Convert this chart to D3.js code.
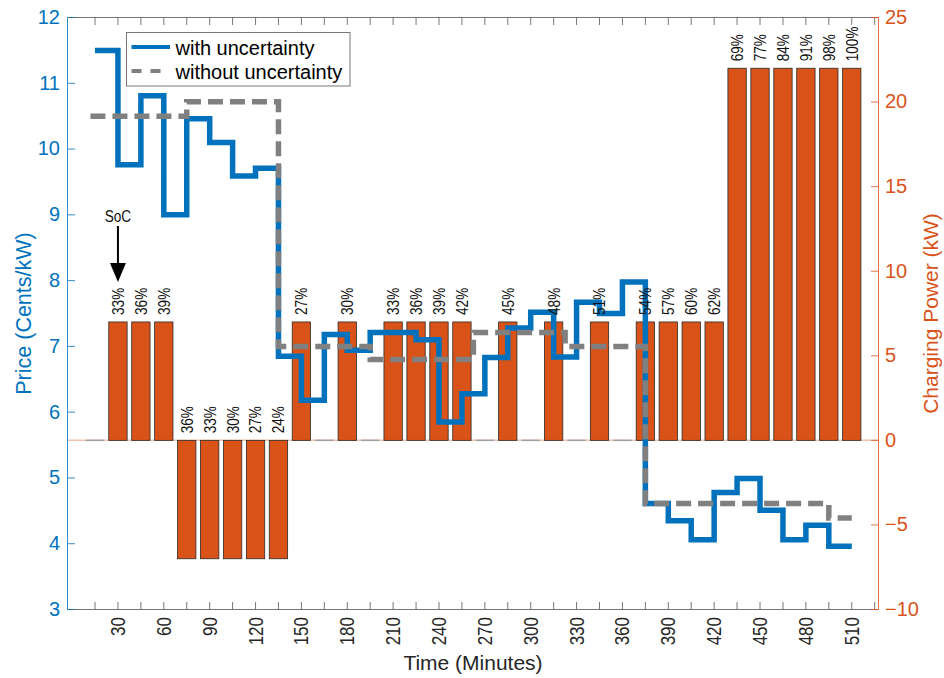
<!DOCTYPE html>
<html><head><meta charset="utf-8">
<script src="https://cdn.jsdelivr.net/npm/d3@7"></script>
<style>
html,body{margin:0;padding:0;background:#fff;}
svg{display:block;font-family:"Liberation Sans",Arial,Helvetica,sans-serif;}
</style></head><body>
<svg id="c" width="944" height="678"></svg>
<script>
// ---------- data ----------
const minutes = [15,30,45,60,75,90,105,120,135,150,165,180,195,210,225,240,255,270,285,300,315,330,345,360,375,390,405,420,435,450,465,480,495,510];
const chargingPower = [0,7,7,7,-7,-7,-7,-7,-7,7,0,7,0,7,7,7,7,0,7,0,7,0,7,0,7,7,7,7,22,22,22,22,22,22];
const socLabels = ["","33%","36%","39%","36%","33%","30%","27%","24%","27%","","30%","","33%","36%","39%","42%","","45%","","48%","","51%","","54%","57%","60%","62%","69%","77%","84%","91%","98%","100%"];

const withStart = [15,30,45,60,75,90,105,120,135,150,165,180,195,210,225,240,255,270,285,300,315,330,345,360,375,390,405,420,435,450,465,480,495];
const priceWith = [11.5,9.76,10.81,9.0,10.46,10.10,9.59,9.71,6.85,6.18,7.18,6.94,7.21,7.21,7.10,5.85,6.28,6.83,7.28,7.52,6.84,7.67,7.50,7.98,4.61,4.35,4.06,4.78,4.99,4.51,4.06,4.28,3.96];
const withoutStart = [12,75,135,195,262.5,322.5,375,495];
const priceWithout = [10.5,10.72,7.0,6.80,7.21,7.0,4.61,4.39];
const lineEnd = 510;

const xTicks = [15,30,45,60,75,90,105,120,135,150,165,180,195,210,225,240,255,270,285,300,315,330,345,360,375,390,405,420,435,450,465,480,495,510,525];
const xTickLabels = [30,60,90,120,150,180,210,240,270,300,330,360,390,420,450,480,510];
const leftTicks = [3,4,5,6,7,8,9,10,11,12];
const rightTicks = [-10,-5,0,5,10,15,20,25];
const legendLabels = ["with uncertainty","without uncertainty"];

// ---------- layout ----------
const BLUE = "#0072BD", ORANGE = "#D95319", GRAY = "#808080", DARK = "#262626";
const L = 67.5, R = 878.5, T = 17.5, B = 609.5;
const svg = d3.select("#c");
const x = d3.scaleLinear().domain([-3, 527.5]).range([L, R]);
const yL = d3.scaleLinear().domain([3, 12]).range([B, T]);
const yR = d3.scaleLinear().domain([-10, 25]).range([B, T]);

// zero baseline
svg.append("line").attr("x1", L).attr("x2", R).attr("y1", yR(0)).attr("y2", yR(0))
  .attr("stroke", ORANGE).attr("stroke-opacity", 0.35).attr("stroke-width", 1.5);

// bars
const bw = (x(15) - x(0)) * 0.8;
const barData = minutes.map((m, i) => ({m, v: chargingPower[i], lab: socLabels[i]}));
svg.append("g").selectAll("rect").data(barData.filter(d => d.v !== 0)).join("rect")
  .attr("x", d => x(d.m) - bw / 2)
  .attr("y", d => yR(Math.max(0, d.v)))
  .attr("width", bw)
  .attr("height", d => Math.abs(yR(d.v) - yR(0)))
  .attr("fill", ORANGE).attr("stroke", "#2a2a2a").attr("stroke-width", 0.8);
svg.append("g").selectAll("line").data(barData.filter(d => d.v === 0)).join("line")
  .attr("x1", d => x(d.m) - bw / 2).attr("x2", d => x(d.m) + bw / 2)
  .attr("y1", yR(0)).attr("y2", yR(0))
  .attr("stroke", "#a0a0a0").attr("stroke-width", 1.5);

// lines
const stair = d3.line().x(d => x(d[0])).y(d => yL(d[1])).curve(d3.curveStepAfter);
const withPts = withStart.map((m, i) => [m, priceWith[i]]).concat([[lineEnd, priceWith[priceWith.length - 1]]]);
const withoutPts = withoutStart.map((m, i) => [m, priceWithout[i]]).concat([[lineEnd, priceWithout[priceWithout.length - 1]]]);
svg.append("path").attr("d", stair(withPts)).attr("fill", "none")
  .attr("stroke", BLUE).attr("stroke-width", 5.5);
svg.append("path").attr("d", stair(withoutPts)).attr("fill", "none")
  .attr("stroke", GRAY).attr("stroke-width", 5.5).attr("stroke-dasharray", "15,7");

// bar labels
svg.append("g").selectAll("text").data(barData.filter(d => d.lab !== "")).join("text")
  .attr("transform", d => `translate(${x(d.m)},${(d.v > 0 ? yR(d.v) : yR(0)) - 7}) rotate(-90) scale(0.8,1)`)
  .attr("dy", "0.35em").attr("text-anchor", "start")
  .attr("font-size", 17).attr("fill", "#111").text(d => d.lab);

// axes
const gB = svg.append("g").attr("transform", `translate(0,${B})`)
  .call(d3.axisBottom(x).tickValues(xTicks).tickSize(-7.5).tickSizeOuter(0).offset(0)
    .tickFormat(d => xTickLabels.includes(d) ? d : ""));
gB.selectAll("text").attr("y", 0).attr("x", -7.5 / 0.85).attr("dy", "0.35em")
  .attr("transform", "rotate(-90) scale(0.85,1)").style("text-anchor", "end")
  .attr("font-size", 20).attr("fill", DARK);
const gT = svg.append("g").attr("transform", `translate(0,${T})`)
  .call(d3.axisTop(x).tickValues(xTicks).tickSize(-7.5).tickSizeOuter(0).offset(0).tickFormat(""));
[gB, gT].forEach(g => { g.selectAll("path,line").attr("stroke", "#666").attr("stroke-width", 0.9); });

const gL = svg.append("g").attr("transform", `translate(${L},0)`)
  .call(d3.axisLeft(yL).tickValues(leftTicks).tickSize(-7.5).tickSizeOuter(0).tickPadding(7.5).offset(0));
gL.selectAll("path,line").attr("stroke", BLUE).attr("stroke-width", 1).attr("stroke-opacity", 0.8);
gL.selectAll("text").attr("font-size", 20).attr("fill", BLUE);

const gR = svg.append("g").attr("transform", `translate(${R},0)`)
  .call(d3.axisRight(yR).tickValues(rightTicks).tickSize(-7.5).tickSizeOuter(0).tickPadding(6.5).offset(0));
gR.selectAll("path,line").attr("stroke", ORANGE).attr("stroke-width", 1).attr("stroke-opacity", 0.8);
gR.selectAll("text").attr("font-size", 20).attr("fill", ORANGE);
[gB, gT, gL, gR].forEach(g => g.attr("font-family", null));

// axis titles
svg.append("text").attr("transform", `translate(23,${(T + B) / 2}) rotate(-90)`)
  .attr("dy", "0.35em").attr("text-anchor", "middle").attr("font-size", 21.5)
  .attr("fill", BLUE).text("Price (Cents/kW)");
svg.append("text").attr("transform", `translate(931,${(T + B) / 2}) rotate(-90)`)
  .attr("dy", "0.35em").attr("text-anchor", "middle").attr("font-size", 21)
  .attr("fill", ORANGE).text("Charging Power (kW)");
svg.append("text").attr("x", (L + R) / 2).attr("y", 670).attr("text-anchor", "middle")
  .attr("font-size", 21).attr("fill", DARK).text("Time (Minutes)");

// SoC annotation
const ax = x(30);
svg.append("text").attr("transform", `translate(${ax},222) scale(0.8,1)`).attr("text-anchor", "middle")
  .attr("font-size", 17).attr("fill", "#111").text("SoC");
svg.append("line").attr("x1", ax).attr("x2", ax).attr("y1", 226).attr("y2", 266)
  .attr("stroke", "#000").attr("stroke-width", 2);
svg.append("path").attr("d", `M${ax - 8},263 L${ax + 8},263 L${ax},282 Z`).attr("fill", "#000");

// legend
const lg = svg.append("g");
lg.append("rect").attr("x", 126.5).attr("y", 32.5).attr("width", 223.5).attr("height", 53.5)
  .attr("fill", "#fff").attr("stroke", "#777").attr("stroke-width", 1);
lg.append("line").attr("x1", 131.5).attr("x2", 170).attr("y1", 47).attr("y2", 47)
  .attr("stroke", BLUE).attr("stroke-width", 4);
lg.append("line").attr("x1", 131.5).attr("x2", 161).attr("y1", 71).attr("y2", 71)
  .attr("stroke", GRAY).attr("stroke-width", 4).attr("stroke-dasharray", "10,9");
lg.selectAll("text").data(legendLabels).join("text")
  .attr("x", 175.5).attr("y", (d, i) => 55 + i * 24).attr("font-size", 20).attr("fill", "#000").text(d => d);
</script>
</body></html>
